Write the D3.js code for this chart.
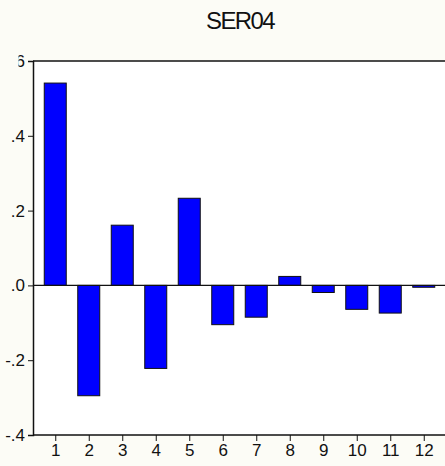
<!DOCTYPE html>
<html>
<head>
<meta charset="utf-8">
<script src="https://cdn.jsdelivr.net/npm/d3@7"></script>
<style>
  html, body { margin: 0; padding: 0; background: #fcfcf6; }
  svg { display: block; }
  text { font-family: "Liberation Sans", Arial, sans-serif; fill: #111; }
</style>
</head>
<body>
<svg id="chart" width="445" height="466"></svg>
<script>
// Correlogram values for SER04, lags 1..12
const title = "SER04";
const lags = [1, 2, 3, 4, 5, 6, 7, 8, 9, 10, 11, 12];
const values = [0.541, -0.295, 0.161, -0.222, 0.233, -0.105, -0.085, 0.024, -0.019, -0.064, -0.074, -0.005];
const yTicks = [-0.4, -0.2, 0.0, 0.2, 0.4, 0.6];
const yTickLabels = ["-.4", "-.2", ".0", ".2", ".4", ".6"];

const W = 445, H = 466;
const frame = { left: 33, top: 61, right: 445, bottom: 435 };

const svg = d3.select("#chart");

const x = d3.scaleLinear().domain([0.5, 12.5]).range([38.5, 440.5]);
const y = d3.scaleLinear().domain([-0.4, 0.6]).range([frame.bottom, frame.top]);
const barW = 22;

// plot area
svg.append("rect")
  .attr("x", frame.left).attr("y", frame.top)
  .attr("width", frame.right - frame.left).attr("height", frame.bottom - frame.top)
  .attr("fill", "#ffffff");

// title
svg.append("text")
  .attr("x", 240).attr("y", 29)
  .attr("text-anchor", "middle")
  .attr("font-size", 24)
  .attr("letter-spacing", -1.6)
  .text(title);

// bars
svg.append("g").selectAll("rect")
  .data(lags)
  .join("rect")
  .attr("x", (d) => x(d) - barW / 2)
  .attr("y", (d, i) => y(Math.max(0, values[i])))
  .attr("width", barW)
  .attr("height", (d, i) => Math.abs(y(values[i]) - y(0)))
  .attr("fill", "#0000ff")
  .attr("stroke", "#111")
  .attr("stroke-width", 1);

// zero line
svg.append("line")
  .attr("x1", frame.left).attr("x2", frame.right)
  .attr("y1", y(0)).attr("y2", y(0))
  .attr("stroke", "#111").attr("stroke-width", 1.2);

// top border
svg.append("line")
  .attr("x1", frame.left).attr("x2", frame.right)
  .attr("y1", frame.top).attr("y2", frame.top)
  .attr("stroke", "#111").attr("stroke-width", 1.5);

// clip for the topmost tick label, which is partly cut off (tick-local coordinates)
svg.append("defs").append("clipPath").attr("id", "ylabclip")
  .append("rect").attr("x", 18.5 - frame.left).attr("y", -50).attr("width", 100).attr("height", 100);

// y axis
const yAxis = d3.axisLeft(y)
  .tickValues(yTicks)
  .tickFormat((d, i) => yTickLabels[i])
  .tickSize(5)
  .tickPadding(3);
const gy = svg.append("g")
  .attr("transform", `translate(${frame.left},0)`)
  .call(yAxis);
gy.select(".domain").attr("stroke", "#111").attr("stroke-width", 1.5);
gy.selectAll(".tick line").attr("stroke", "#111");
gy.selectAll(".tick text")
  .attr("font-size", 17)
  .attr("fill", "#111")
  .attr("font-family", "Liberation Sans, Arial, sans-serif");
gy.selectAll(".tick").filter((d) => d === 0.6).select("text")
  .attr("clip-path", "url(#ylabclip)");

// x axis
const xAxis = d3.axisBottom(x)
  .tickValues(lags)
  .tickFormat(d3.format("d"))
  .tickSize(6)
  .tickPadding(3);
const gx = svg.append("g")
  .attr("transform", `translate(0,${frame.bottom})`)
  .call(xAxis);
gx.select(".domain").remove();
gx.append("line")
  .attr("x1", frame.left).attr("x2", frame.right)
  .attr("y1", 0).attr("y2", 0)
  .attr("stroke", "#111").attr("stroke-width", 1.5);
gx.selectAll(".tick line").attr("stroke", "#111");
gx.selectAll(".tick text")
  .attr("font-size", 17)
  .attr("fill", "#111")
  .attr("font-family", "Liberation Sans, Arial, sans-serif");
</script>
</body>
</html>
